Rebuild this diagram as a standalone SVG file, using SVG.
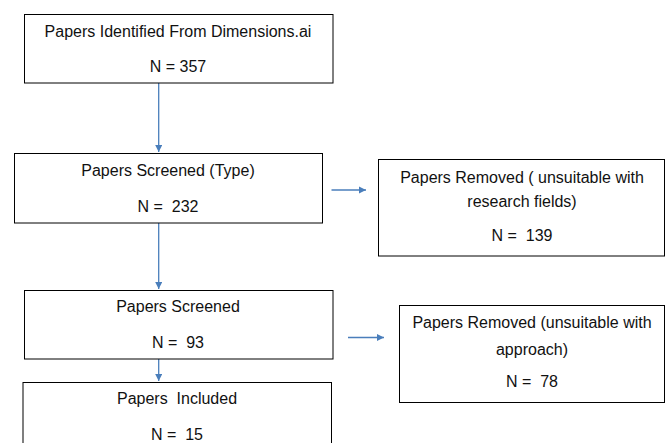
<svg xmlns="http://www.w3.org/2000/svg" width="671" height="443" viewBox="0 0 671 443">
<style>
.box{fill:#fff;stroke:#000;stroke-width:1}
.t{font-family:"Liberation Sans",Arial,sans-serif;font-size:16px;fill:#111;text-anchor:middle;white-space:pre}
.c{stroke:#4a7ebb;stroke-width:1.3;fill:none}
</style>
<defs>
<marker id="ah" viewBox="0 0 10 10" refX="10" refY="5" markerWidth="5.4" markerHeight="5.4" orient="auto" markerUnits="strokeWidth">
<path d="M0,0 L10,5 L0,10 z" fill="#4a7ebb"/>
</marker>
</defs>
<rect width="671" height="443" fill="#fff"/>
<g id="connectors">
<line class="c" x1="158.7" y1="83" x2="158.7" y2="152" marker-end="url(#ah)"/>
<line class="c" x1="158.7" y1="223" x2="158.7" y2="289" marker-end="url(#ah)"/>
<line class="c" x1="158.7" y1="359" x2="158.7" y2="381" marker-end="url(#ah)"/>
<line class="c" x1="331.5" y1="190" x2="366" y2="190" marker-end="url(#ah)"/>
<line class="c" x1="348" y1="337.5" x2="384" y2="337.5" marker-end="url(#ah)"/>
</g>
<g id="n1">
<rect class="box" x="24.5" y="14.5" width="308.5" height="68.5"/>
<text class="t" x="178" y="37">Papers Identified From Dimensions.ai</text>
<text class="t" x="178" y="72">N = 357</text>
</g>
<g id="n2">
<rect class="box" x="14.5" y="153.5" width="308" height="69.5"/>
<text class="t" x="168" y="176">Papers Screened (Type)</text>
<text class="t" x="168" y="211.5">N =  232</text>
</g>
<g id="n3">
<rect class="box" x="378.5" y="159.5" width="286" height="96.5"/>
<text class="t" x="522" y="183">Papers Removed ( unsuitable with</text>
<text class="t" x="522" y="206.5">research fields)</text>
<text class="t" x="522" y="240.5">N =  139</text>
</g>
<g id="n4">
<rect class="box" x="24.5" y="290.5" width="308.5" height="68.5"/>
<text class="t" x="178" y="311.5">Papers Screened</text>
<text class="t" x="178" y="348">N =  93</text>
</g>
<g id="n5">
<rect class="box" x="399.5" y="305.5" width="265" height="97"/>
<text class="t" x="532" y="328">Papers Removed (unsuitable with</text>
<text class="t" x="532" y="355">approach)</text>
<text class="t" x="532" y="386.5">N =  78</text>
</g>
<g id="n6">
<rect class="box" x="23" y="382.5" width="308.5" height="70"/>
<text class="t" x="177" y="404">Papers  Included</text>
<text class="t" x="177" y="440">N =  15</text>
</g>
</svg>
